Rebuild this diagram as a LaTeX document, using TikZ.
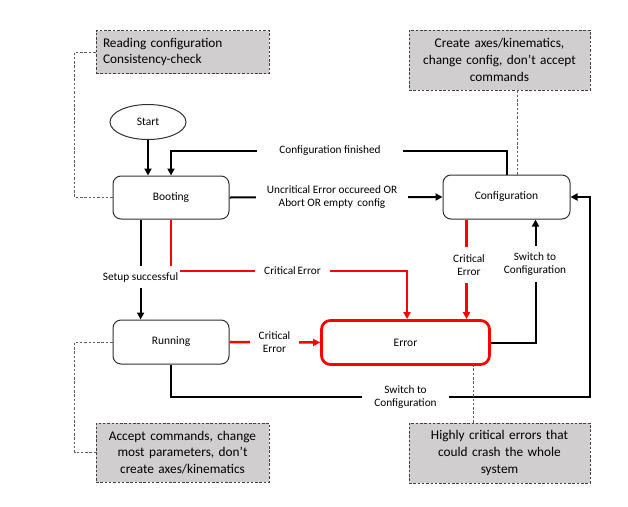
\documentclass[tikz,border=0pt]{standalone}
\usepackage{fontspec}
\setmainfont{Carlito}
\usetikzlibrary{arrows.meta,calc,shapes.geometric}
\definecolor{notefill}{HTML}{D0CECE}
\definecolor{notedraw}{HTML}{404040}
\definecolor{boxdraw}{HTML}{303030}
\definecolor{errred}{HTML}{FF0000}
\tikzset{
  statebox/.style={draw=boxdraw,line width=1pt,rounded corners=8pt,fill=white,inner sep=0pt,font=\fontsize{11.5}{13.3}\selectfont},
  errbox/.style={draw=errred,line width=2.8pt,rounded corners=9pt,fill=white,inner sep=0pt,font=\fontsize{11.5}{13.3}\selectfont},
  notebox/.style={draw=notedraw,fill=notefill,dash pattern=on 2.5pt off 1.8pt,line width=0.9pt,inner sep=0pt,font=\fontsize{13.3}{16.7}\selectfont},
  conn/.style={line width=2pt,black,-{Triangle[length=7pt,width=7pt]}},
  redconn/.style={line width=2.5pt,errred,-{Triangle[length=7pt,width=7pt]}},
  noteline/.style={draw=notedraw!85,line width=0.9pt,dash pattern=on 2.5pt off 1.8pt},
  lbl/.style={fill=white,align=center,font=\fontsize{11.3}{13.3}\selectfont,inner ysep=3pt}
}
\begin{document}
\begin{tikzpicture}[x=1pt,y=-1pt]
\useasboundingbox (0,0) rectangle (628,506);
% states
\node[draw=boxdraw,line width=1pt,ellipse,minimum width=76pt,minimum height=35pt,inner sep=0pt,font=\fontsize{11.5}{13.3}\selectfont] (start) at (148,122) {Start};
\node[statebox,minimum width=116pt,minimum height=43pt] (boot) at (171,197.5) {Booting};
\node[statebox,minimum width=127pt,minimum height=44pt] (cfg) at (506.5,197) {Configuration};
\node[statebox,minimum width=116pt,minimum height=44pt] (run) at (171,342) {Running};
\node[errbox,minimum width=168pt,minimum height=44pt] (err) at (405.5,342.5) {Error};
% notes
\node[notebox,minimum width=173pt,minimum height=43pt,text width=159pt,align=left] (n1) at (182.5,52) {Reading configuration\\Consistency-check};
\node[notebox,minimum width=181pt,minimum height=60pt,text width=175pt,align=center] (n2) at (499.5,60) {Create axes/kinematics,\\change config, don't accept\\commands};
\node[notebox,minimum width=173pt,minimum height=59pt,text width=170pt,align=center] (n3) at (182.5,452.5) {Accept commands, change\\most parameters, don't\\create axes/kinematics};
\node[notebox,minimum width=181pt,minimum height=60pt,text width=175pt,align=center] (n4) at (499.5,453) {Highly critical errors that\\could crash the whole\\system};
% dashed note links
\draw[noteline] (n1.west) -- ++(-21,0) |- (boot.west);
\draw[noteline] ([xshift=17.5pt]n2.south) -- ([xshift=17.5pt]n2.south |- cfg.north);
\draw[noteline] (run.west) -- ++(-38,0) |- (n3.west);
% connectors
\coordinate (cf) at (330,151);
\coordinate (ce) at (407,271);
\coordinate (rc) at (590,397);
\draw[conn] (start.south) -- (start.south |- boot.north);
\draw[conn] (cfg.north) |- (cf) -| (boot.north);
\draw[conn] (boot.east) -- (cfg.west);
\draw[conn] ($(boot.south west)!0.24!(boot.south east)$) -- ($(run.north west)!0.24!(run.north east)$);
\draw[redconn] (boot.south) |- (ce) -- (ce |- err.north);
\draw[redconn] ([xshift=24pt]cfg.south west) -- ([xshift=24pt]cfg.south west |- err.north);
\draw[conn] (err.east) -| ([xshift=-35pt]cfg.south east);
\draw[redconn] (run.east) -- (err.west);
\draw[conn] (run.south) |- (rc) |- (cfg.east);
\draw[noteline] ([xshift=-26.5pt]n4.north) -- ([xshift=-26.5pt]n4.north |- err.south);
% labels
\node[lbl,inner xsep=22pt] (l1) at (cf) {Configuration finished};
\node[lbl,inner xsep=11pt] (l2) at (332,197) {Uncritical Error occureed OR\\Abort OR empty\, config};
\node[lbl,inner xsep=2pt,inner ysep=6pt] (l3) at (140.5,277) {Setup successful};
\node[lbl,inner xsep=9pt] (l4) at (292.5,271) {Critical\,Error};
\node[lbl,inner ysep=7pt,inner xsep=2pt] (l5) at (469,265) {Critical\\Error};
\node[lbl,inner ysep=6pt,inner xsep=2pt] (l6) at (535,264) {Switch to\\Configuration};
\node[lbl,inner xsep=9pt] (l7) at (274.5,342) {Critical\\Error};
\node[lbl,inner xsep=12pt] (l8) at (405.5,397) {Switch to\\Configuration};
\end{tikzpicture}
\end{document}
